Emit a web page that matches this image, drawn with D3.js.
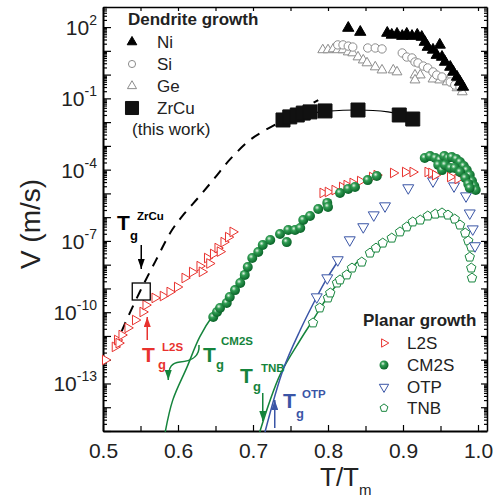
<!DOCTYPE html>
<html>
<head>
<meta charset="utf-8">
<script src="https://cdn.jsdelivr.net/npm/d3@7"></script>
<style>
body { margin: 0; background: #fff; }
svg { font-family: Arial, "Liberation Sans", Helvetica, sans-serif; }
</style>
</head>
<body>
<svg id="chart" width="496" height="504"></svg>
<script>
// values: T/Tm and log10 of V (m/s)

// dendrite growth
const niT = [0.827,0.843,0.879,0.885,0.892,0.899,0.905,0.912,0.919,0.925,0.929,0.933,0.940,0.945,0.949,0.952,0.956,0.963,0.967,0.972,0.976,0.980];
const niLogV = [1.96,1.79,1.75,1.67,1.71,1.62,1.71,1.62,1.67,1.58,1.37,1.16,1.04,0.82,1.25,0.74,0.53,0.32,0.11,-0.10,-0.31,-0.52];

const siT = [0.813,0.820,0.827,0.833,0.853,0.863,0.872,0.899,0.905,0.912,0.916,0.920,0.927,0.933,0.940,0.945,0.952,0.963,0.969,0.976];
const siLogV = [1.25,1.25,1.20,1.16,1.12,1.12,1.08,0.91,0.74,0.70,0.53,0.49,0.36,0.28,0.11,-0.02,-0.10,-0.31,-0.44,-0.52];

const geT = [0.793,0.800,0.807,0.813,0.820,0.827,0.833,0.840,0.847,0.852,0.863,0.872,0.887,0.892,0.916,0.923,0.916,0.940,0.949,0.959,0.967,0.972,0.979];
const geLogV = [1.04,1.04,1.08,1.04,1.04,0.95,0.91,0.74,0.61,0.49,0.32,0.19,0.19,0.11,-0.02,-0.02,-0.23,-0.19,-0.23,-0.31,-0.35,-0.56,-0.73];

const zrcuT = [0.740,0.749,0.759,0.767,0.776,0.796,0.840,0.895,0.913];
const zrcuLogV = [-1.91,-1.78,-1.70,-1.62,-1.57,-1.53,-1.49,-1.70,-1.87];

// ZrCu model: solid over the data, dashed extrapolation to low T
const zrcuFitT = [0.740,0.760,0.780,0.800,0.820,0.840,0.860,0.880,0.900,0.915];
const zrcuFitLogV = [-1.93,-1.75,-1.62,-1.54,-1.50,-1.49,-1.51,-1.57,-1.68,-1.80];
const zrcuModelT = [0.525,0.529,0.549,0.570,0.592,0.609,0.629,0.649,0.669,0.696,0.713,0.750,0.787];
const zrcuModelLogV = [-10.80,-10.50,-9.15,-7.85,-6.54,-5.83,-5.11,-4.35,-3.58,-2.75,-2.40,-1.75,-1.07];

// planar growth
const l2sT = [0.503,0.516,0.519,0.521,0.525,0.533,0.543,0.553,0.557,0.569,0.580,0.589,0.599,0.609,0.619,0.629,0.632,0.639,0.642,0.647,0.653,0.656,0.661,0.667,0.673,
  0.793,0.800,0.809,0.819,0.825,0.833,0.843,0.859,0.865,0.887,0.903,0.913,0.933,0.938,0.943,0.963,0.973];
const l2sLogV = [-12.01,-11.46,-11.17,-11.30,-10.96,-10.66,-10.33,-9.99,-9.70,-9.40,-9.32,-9.15,-8.94,-8.56,-8.31,-8.06,-8.30,-7.72,-7.95,-7.55,-7.30,-7.45,-7.05,-6.84,-6.62,
  -4.98,-4.94,-4.86,-4.73,-4.65,-4.56,-4.48,-4.31,-4.23,-4.14,-4.10,-4.10,-4.10,-4.14,-4.23,-4.31,-4.39];

const cm2sT = [0.647,0.652,0.656,0.665,0.669,0.676,0.683,0.689,0.693,0.699,0.707,0.713,0.723,0.736,0.745,0.747,0.756,0.763,0.767,0.776,0.787,0.799,0.800,0.816,0.827,0.836,0.853,0.865,
  0.929,0.936,0.943,0.949,0.955,0.960,0.965,0.971,0.976,0.981,0.985,0.989,0.992,0.995,0.997,0.947,0.952,0.956,0.963,0.969,0.976,0.983,0.987,0.989];
const cm2sLogV = [-10.20,-9.99,-9.82,-9.61,-9.36,-9.07,-8.77,-8.43,-8.10,-7.72,-7.47,-7.17,-6.96,-6.71,-7.05,-6.54,-6.54,-6.46,-6.12,-5.95,-5.66,-5.40,-5.57,-4.98,-4.81,-4.73,-4.44,-4.27,
  -3.51,-3.43,-3.51,-3.59,-3.43,-3.51,-3.47,-3.55,-3.68,-3.85,-4.02,-4.23,-4.48,-4.69,-4.86,-3.80,-4.02,-3.80,-3.93,-3.93,-4.10,-4.35,-4.60,-4.77];
const cm2sFitT = [0.583,0.593,0.612,0.629,0.647,0.669,0.696,0.725];
const cm2sFitLogV = [-15.04,-13.70,-12.31,-11.04,-10.12,-9.32,-7.89,-6.90];

const otpT = [0.785,0.799,0.813,0.829,0.847,0.861,0.876,0.907,0.940,0.968,0.984,0.989,0.993,0.996];
const otpLogV = [-9.36,-8.56,-7.80,-6.96,-6.41,-5.91,-5.53,-4.77,-4.48,-4.69,-5.11,-5.83,-6.50,-7.21];
const otpFitT = [0.716,0.740,0.763,0.785,0.799,0.816];
const otpFitLogV = [-15.04,-12.43,-10.75,-9.36,-8.56,-7.72];

const tnbT = [0.780,0.789,0.800,0.803,0.812,0.816,0.825,0.832,0.845,0.856,0.864,0.873,0.885,0.896,0.905,0.913,0.923,0.933,0.943,0.952,0.960,0.969,0.976,0.983,0.987,0.991,0.989,0.991,0.992];
const tnbLogV = [-10.45,-9.82,-9.40,-9.19,-8.77,-8.64,-8.43,-8.14,-7.89,-7.51,-7.30,-7.09,-6.88,-6.62,-6.41,-6.20,-6.12,-5.95,-5.87,-5.82,-5.91,-6.08,-6.33,-6.67,-7.00,-7.26,-7.68,-8.14,-8.56];
const tnbFitT = [0.709,0.736,0.763,0.780,0.803,0.823,0.839];
const tnbFitLogV = [-15.04,-12.64,-11.17,-10.33,-9.19,-8.43,-7.89];

// glass transition temperatures (T/Tm) marked by arrows
const tgNames = ["ZrCu","L2S","CM2S","TNB","OTP"];
const tgValues = [0.551,0.559,0.587,0.713,0.729];

// axis ticks
const xTicks = [0.5,0.6,0.7,0.8,0.9,1.0];
const xMinorTicks = [0.55,0.65,0.75,0.85,0.95];
const yLabelExp = [2,-1,-4,-7,-10,-13];

const RED = "#e8322e", GREEN = "#15843c", BLUE = "#3a55a6", GRAY = "#8c8c8c";

const width = 496, height = 504;
const margin = {left: 103, right: 9, top: 7, bottom: 73};

const x = d3.scaleLinear([0.5, 1.012], [margin.left, width - margin.right]);
const y = d3.scaleLog([1e-15, 7e2], [height - margin.bottom, margin.top]);

const svg = d3.select("#chart");
const defs = svg.append("defs");

const ball = defs.append("radialGradient").attr("id","ball").attr("cx","38%").attr("cy","35%").attr("r","65%");
ball.append("stop").attr("offset","0%").attr("stop-color","#e6f5e8");
ball.append("stop").attr("offset","35%").attr("stop-color","#2f9c52");
ball.append("stop").attr("offset","100%").attr("stop-color","#0a6429");

[["k","#000"],["r",RED],["g",GREEN],["b",BLUE]].forEach(([id,c]) => {
  defs.append("marker").attr("id","ah-"+id)
    .attr("viewBox","0 0 10 7").attr("refX",10).attr("refY",3.5)
    .attr("markerWidth",10).attr("markerHeight",7)
    .attr("markerUnits","userSpaceOnUse").attr("orient","auto")
    .append("path").attr("d","M0,0 L10,3.5 L0,7 z").attr("fill",c);
});

const pentagon = {
  draw(ctx, size) {
    const r = Math.sqrt(size / 2.378);
    for (let i = 0; i < 5; i++) {
      const a = -Math.PI/2 + i*2*Math.PI/5;
      if (i === 0) ctx.moveTo(r*Math.cos(a), r*Math.sin(a));
      else ctx.lineTo(r*Math.cos(a), r*Math.sin(a));
    }
    ctx.closePath();
  }
};

// ---- axes / frame
const decades = d3.range(-15, 3).map(e => Math.pow(10, e));
const minorY = [];
d3.range(-15, 3).forEach(e => { for (let k = 2; k <= 9; k++) { const v = k*Math.pow(10,e); if (v <= 7e2) minorY.push(v); } });

function axisStyle(g, w) {
  g.select(".domain").attr("stroke","#000").attr("stroke-width", w);
  g.selectAll(".tick line").attr("stroke","#000").attr("stroke-width",1.2);
}

svg.append("g").attr("transform",`translate(${margin.left},0)`)
  .call(d3.axisLeft(y).tickValues(minorY).tickSize(-4).tickFormat("").tickSizeOuter(0))
  .call(g => axisStyle(g, 2));
svg.append("g").attr("transform",`translate(${margin.left},0)`)
  .call(d3.axisLeft(y).tickValues(decades).tickSize(-8).tickFormat("").tickSizeOuter(0))
  .call(g => { g.select(".domain").remove(); axisStyle(g, 2); });

svg.append("g").attr("transform",`translate(${width - margin.right},0)`)
  .call(d3.axisRight(y).tickValues(minorY).tickSize(-3).tickFormat("").tickSizeOuter(0))
  .call(g => axisStyle(g, 1.5));
svg.append("g").attr("transform",`translate(${width - margin.right},0)`)
  .call(d3.axisRight(y).tickValues(decades).tickSize(-6).tickFormat("").tickSizeOuter(0))
  .call(g => { g.select(".domain").remove(); axisStyle(g, 1.5); });

svg.append("g").attr("transform",`translate(0,${height - margin.bottom})`)
  .call(d3.axisBottom(x).tickValues(xTicks).tickSize(-6).tickPadding(12).tickFormat(d3.format(".1f")).tickSizeOuter(0))
  .call(g => { axisStyle(g, 2); g.selectAll("text").attr("font-size",21).attr("fill","#222"); });
svg.append("g").attr("transform",`translate(0,${height - margin.bottom})`)
  .call(d3.axisBottom(x).tickValues(xMinorTicks).tickSize(-5).tickFormat("").tickSizeOuter(0))
  .call(g => { g.select(".domain").remove(); axisStyle(g, 2); });

svg.append("g").attr("transform",`translate(0,${margin.top})`)
  .call(d3.axisTop(x).tickValues(xTicks.concat(xMinorTicks)).tickSize(-4).tickFormat("").tickSizeOuter(0))
  .call(g => axisStyle(g, 1.5));

// y tick labels 10^n
svg.append("g").selectAll("text").data(yLabelExp).join("text")
  .attr("x", 97).attr("y", d => y(Math.pow(10, d)) + 8)
  .attr("text-anchor","end").attr("font-size",21).attr("fill","#222")
  .call(t => {
    t.append("tspan").text("10");
    t.append("tspan").attr("font-size",14).attr("dy",-10).text(d => String(d));
  });

// axis titles
svg.append("text").attr("transform","translate(40,224) rotate(-90)")
  .attr("text-anchor","middle").attr("font-size",28).attr("fill","#222").text("V (m/s)");
svg.append("text").attr("x",320).attr("y",486).attr("font-size",26).attr("fill","#222")
  .call(t => { t.append("tspan").text("T/T"); t.append("tspan").attr("font-size",15).attr("dy",9).text("m"); });

// ---- curves
const line = d3.line().x(d => x(d[0])).y(d => y(Math.pow(10, d[1]))).curve(d3.curveCatmullRom);
const zip = (a, b) => a.map((v, i) => [v, b[i]]);
const plot = svg.append("g");

plot.append("path").attr("d", line(zip(zrcuModelT, zrcuModelLogV)))
  .attr("fill","none").attr("stroke","#000").attr("stroke-width",2).attr("stroke-dasharray","10,8");
plot.append("path").attr("d", line(zip(zrcuFitT, zrcuFitLogV)))
  .attr("fill","none").attr("stroke","#000").attr("stroke-width",1.2);
plot.append("path").attr("d", line(zip(cm2sFitT, cm2sFitLogV)))
  .attr("fill","none").attr("stroke",GREEN).attr("stroke-width",1.5);
plot.append("path").attr("d", line(zip(tnbFitT, tnbFitLogV)))
  .attr("fill","none").attr("stroke",GREEN).attr("stroke-width",1.5);
plot.append("path").attr("d", line(zip(otpFitT, otpFitLogV)))
  .attr("fill","none").attr("stroke",BLUE).attr("stroke-width",1.5);

// ---- markers
function scatter(T, L, type, size, rot, fill, stroke) {
  plot.append("g").selectAll("path").data(zip(T, L)).join("path")
    .attr("transform", d => `translate(${x(d[0])},${y(Math.pow(10, d[1]))}) rotate(${rot})`)
    .attr("d", d3.symbol(type, size))
    .attr("fill", fill).attr("stroke", stroke).attr("stroke-width", 1);
}
scatter(geT, geLogV, d3.symbolTriangle, 42, 0, "#fff", GRAY);
scatter(siT, siLogV, d3.symbolCircle, 55, 0, "#fff", GRAY);
scatter(niT, niLogV, d3.symbolTriangle, 55, 0, "#000", "#000");
scatter(zrcuT, zrcuLogV, d3.symbolSquare, 196, 0, "#111", "#111");
scatter(tnbT, tnbLogV, pentagon, 58, 0, "#fff", GREEN);
scatter(otpT, otpLogV, d3.symbolTriangle, 52, 180, "#fff", BLUE);
scatter(l2sT, l2sLogV, d3.symbolTriangle, 40, 90, "#fff", RED);
plot.append("g").selectAll("circle").data(zip(cm2sT, cm2sLogV)).join("circle")
  .attr("cx", d => x(d[0])).attr("cy", d => y(Math.pow(10, d[1]))).attr("r", 5)
  .attr("fill","url(#ball)");

// ---- Tg annotations
const tg = Object.fromEntries(tgNames.map((n, i) => [n, tgValues[i]]));
const ann = svg.append("g").attr("font-weight","bold");
function tgLabel(x0, b, sup, color, gdx, gdy, sdx, sdy) {
  ann.append("text").attr("x",x0).attr("y",b).attr("font-size",21).attr("fill",color).text("T");
  ann.append("text").attr("x",x0+gdx).attr("y",b+gdy).attr("font-size",13).attr("fill",color).text("g");
  ann.append("text").attr("x",x0+sdx).attr("y",b+sdy).attr("font-size",11.5).attr("fill",color).text(sup);
}
tgLabel(117, 230, "ZrCu", "#000", 13, 10, 20, -10);
tgLabel(142, 362, "L2S", RED, 16, 7, 20, -11);
tgLabel(203, 362, "CM2S", GREEN, 13, 7, 18, -17);
tgLabel(240, 383, "TNB", GREEN, 13, 8, 21, -11);
tgLabel(283, 408, "OTP", BLUE, 13, 10, 19, -10);

function arrow(xv, y1, y2, id, color) {
  ann.append("line").attr("x1", x(xv)).attr("x2", x(xv)).attr("y1", y1).attr("y2", y2)
    .attr("stroke", color).attr("stroke-width", 1.5).attr("marker-end", `url(#ah-${id})`);
}
arrow(tg.ZrCu, 245, 269, "k", "#000");
arrow(tg.L2S, 340, 317, "r", RED);
arrow(tg.TNB, 393, 421, "g", GREEN);
arrow(tg.OTP, 428, 400, "b", BLUE);
ann.append("path")
  .attr("d", `M199,345 C200,358 190,361 180,362 C172,363 ${x(tg.CM2S)},366 ${x(tg.CM2S)},380`)
  .attr("fill","none").attr("stroke",GREEN).attr("stroke-width",1.5).attr("marker-end","url(#ah-g)");
ann.append("rect").attr("x", x(tg.ZrCu) - 9).attr("y", 283).attr("width",18).attr("height",17)
  .attr("fill","none").attr("stroke","#000").attr("stroke-width",1.3);

// ---- legends
const leg = svg.append("g");
leg.append("text").attr("x",128).attr("y",25).attr("font-size",17).attr("font-weight","bold").attr("fill","#222").text("Dendrite growth");
const dendLeg = [
  {name:"Ni", type:d3.symbolTriangle, size:40, fill:"#000", stroke:"#000", y:42},
  {name:"Si", type:d3.symbolCircle, size:40, fill:"#fff", stroke:GRAY, y:64},
  {name:"Ge", type:d3.symbolTriangle, size:36, fill:"#fff", stroke:GRAY, y:86},
  {name:"ZrCu", type:d3.symbolSquare, size:170, fill:"#111", stroke:"#111", y:108}
];
dendLeg.forEach(d => {
  leg.append("path").attr("transform",`translate(132,${d.y})`).attr("d", d3.symbol(d.type, d.size))
    .attr("fill", d.fill).attr("stroke", d.stroke);
  leg.append("text").attr("x",157).attr("y",d.y+6).attr("font-size",17).attr("fill","#222").text(d.name);
});
leg.append("text").attr("x",132).attr("y",135).attr("font-size",17).attr("fill","#222").text("(this work)");

leg.append("text").attr("x",363).attr("y",326).attr("font-size",17).attr("font-weight","bold").attr("fill","#222").text("Planar growth");
const planLeg = [
  {name:"L2S", type:d3.symbolTriangle, size:30, rot:90, fill:"#fff", stroke:RED, y:343},
  {name:"CM2S", type:null, y:365},
  {name:"OTP", type:d3.symbolTriangle, size:38, rot:180, fill:"#fff", stroke:BLUE, y:387},
  {name:"TNB", type:pentagon, size:40, rot:0, fill:"#fff", stroke:GREEN, y:408}
];
planLeg.forEach(d => {
  if (d.type) {
    leg.append("path").attr("transform",`translate(384,${d.y}) rotate(${d.rot})`).attr("d", d3.symbol(d.type, d.size))
      .attr("fill", d.fill).attr("stroke", d.stroke);
  } else {
    leg.append("circle").attr("cx",384).attr("cy",d.y).attr("r",4.5).attr("fill","url(#ball)");
  }
  leg.append("text").attr("x",407).attr("y",d.y+6).attr("font-size",17).attr("fill","#222").text(d.name);
});
</script>
</body>
</html>
